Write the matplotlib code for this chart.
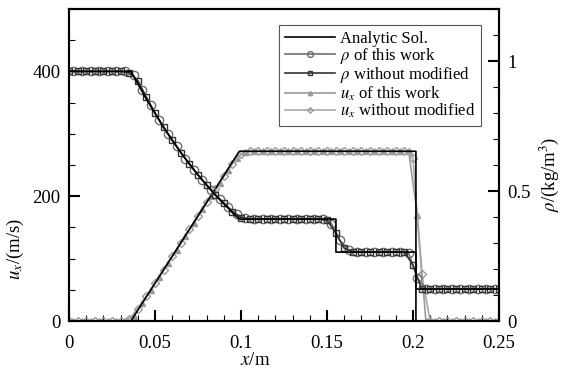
import numpy as np
import matplotlib
matplotlib.use('Agg')
import matplotlib.pyplot as plt
from matplotlib.ticker import MultipleLocator

plt.rcParams['font.family'] = ['Liberation Serif', 'DejaVu Serif']
plt.rcParams['mathtext.fontset'] = 'stix'

# ── analytic solution (breakpoints) ──────────────────────────────────
x_rho_exact = [0.0, 0.036, 0.045, 0.055, 0.065, 0.075, 0.085, 0.095, 0.099,
               0.1552, 0.1552, 0.2017, 0.2017, 0.25]
rho_exact = [0.96, 0.96, 0.853, 0.745, 0.648, 0.562, 0.485, 0.417, 0.392,
             0.392, 0.265, 0.265, 0.123, 0.123]
x_u_exact = [0.0, 0.036, 0.099, 0.2017, 0.2017, 0.25]
u_exact = [0, 0, 272, 272, 0, 0]

# ── numerical results ────────────────────────────────────────────────
x_old = np.arange(0, 0.2501, 0.005)          # "without modified" grid
x_new = np.arange(0.0025, 0.25, 0.005)       # "this work" grid

rho_old = ([0.96] * 7 +
           [0.955, 0.925, 0.860, 0.800, 0.745, 0.695, 0.648, 0.603, 0.562,
            0.522, 0.485, 0.452, 0.420, 0.398] +
           [0.392] * 9 +
           [0.388, 0.340, 0.280, 0.267] +
           [0.265] * 6 +
           [0.215] +
           [0.123] * 10)
rho_new = ([0.96] * 7 +
           [0.945, 0.890, 0.830, 0.772, 0.720, 0.672, 0.625, 0.582, 0.542,
            0.505, 0.470, 0.438, 0.410, 0.395] +
           [0.392] * 9 +
           [0.375, 0.310, 0.272] +
           [0.265] * 6 +
           [0.260, 0.165] +
           [0.123] * 9)
u_old = ([0] * 7 +
         [3, 20, 40, 61, 82, 104, 125, 147, 168, 190, 211, 232, 252, 268] +
         [272] * 19 +
         [262, 75] +
         [0] * 9)
u_new = ([0] * 7 +
         [8, 29, 50, 71, 93, 114, 136, 157, 179, 200, 221, 242, 262, 271] +
         [272] * 19 +
         [170] +
         [0] * 9)

fig = plt.figure(figsize=(5.64, 3.72), dpi=100)
ax = fig.add_axes([69/564, 51/372, 430/564, 312/372])
ax2 = ax.twinx()

# velocity on the left axis
h_u_new, = ax.plot(x_new, u_new, color='#9a9a9a', lw=1.2, marker='^',
                   ms=4.5, mfc='#9a9a9a', mec='#9a9a9a', zorder=2,
                   label=r'$u_x$ of this work')
h_u_old, = ax.plot(x_old, u_old, color='#a8a8a8', lw=1.2, marker='D',
                   ms=4, mfc='none', mec='#9a9a9a', mew=1.0, zorder=2,
                   label=r'$u_x$ without modified')
ax.plot(x_u_exact, u_exact, color='black', lw=1.2, zorder=3)

# density on the right axis
h_r_new, = ax2.plot(x_new, rho_new, color='#6e6e6e', lw=1.2, marker='o',
                    ms=6, mfc='none', mec='#6e6e6e', mew=1.0, zorder=2,
                    label=r'$\rho$ of this work')
h_r_old, = ax2.plot(x_old, rho_old, color='#333333', lw=1.2, marker='s',
                    ms=4.5, mfc='none', mec='#333333', mew=1.0, zorder=2,
                    label=r'$\rho$ without modified')
h_ex, = ax2.plot(x_rho_exact, rho_exact, color='black', lw=1.2, zorder=3,
                 label='Analytic Sol.')

ax.set_xlim(0, 0.25)
ax.set_ylim(0, 500)
ax2.set_ylim(0, 1.2)

ax.xaxis.set_minor_locator(MultipleLocator(0.01))
ax.yaxis.set_minor_locator(MultipleLocator(50))
ax2.yaxis.set_minor_locator(MultipleLocator(0.1))
ax.set_xticks([0, 0.05, 0.1, 0.15, 0.2, 0.25])
ax.set_xticklabels(['0', '0.05', '0.1', '0.15', '0.2', '0.25'])
ax.set_yticks([0, 200, 400])
ax2.set_yticks([0, 0.5, 1])
ax2.set_yticklabels(['0', '0.5', '1'])

for a in (ax, ax2):
    for s in a.spines.values():
        s.set_linewidth(1.5)
ax.tick_params(axis='both', which='major', direction='in', length=8,
               width=1.5, labelsize=13.5, top=False, right=False, pad=6)
ax.tick_params(axis='x', which='major', pad=10)
ax.tick_params(axis='both', which='minor', direction='in', length=4,
               width=0.8, top=False, right=False)
ax2.tick_params(axis='y', which='major', direction='in', length=8,
                width=1.5, labelsize=13.5, pad=6)
ax2.tick_params(axis='y', which='minor', direction='in', length=4, width=0.8)

ax.set_xlabel(r'$x$/m', fontsize=13.5)
ax.set_ylabel(r'$u_x$/(m/s)', fontsize=13.5)
ax2.set_ylabel(r'$\rho$/(kg/m$^3$)', fontsize=13.5)
ax.xaxis.set_label_coords(0.433, -0.1)
ax.yaxis.set_label_coords(-0.1, 0.23)
ax2.yaxis.set_label_coords(1.09, 0.47)

leg = ax2.legend(handles=[h_ex, h_r_new, h_r_old, h_u_new, h_u_old],
                 loc='upper right', bbox_to_anchor=(0.977, 0.975),
                 fontsize=12, handlelength=3.0, labelspacing=-0.05,
                 handletextpad=0.3, borderpad=0.35, fancybox=False,
                 framealpha=1, edgecolor='#555555', markerscale=0.7)
leg.get_frame().set_linewidth(0.8)

fig.savefig('out.png', dpi=100)
